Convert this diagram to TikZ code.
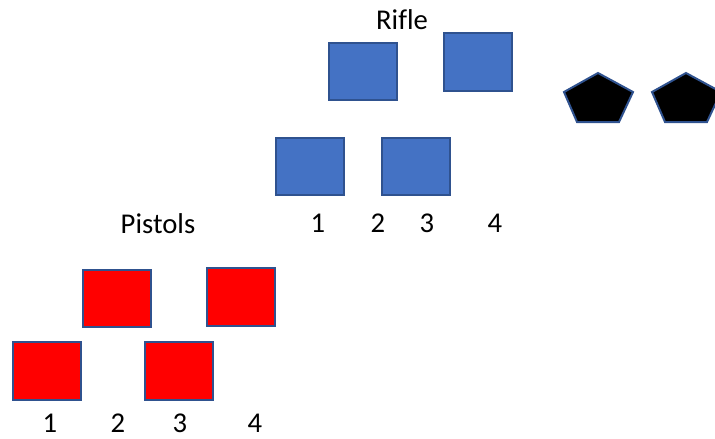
\documentclass[tikz,border=0pt]{standalone}
\usepackage{fontspec}
\setmainfont{Carlito}[Ligatures=NoCommon]
\usepackage{xcolor}
\usepackage{tikz}
\definecolor{boxedge}{HTML}{2F528F}
\definecolor{riflefill}{HTML}{4472C4}

\begin{document}
\begin{tikzpicture}[x=0.75pt, y=-0.75pt, line width=1.5pt,
  gun/.style={draw=boxedge, minimum width=51pt, minimum height=43pt, inner sep=0pt},
  rifle/.style={gun, fill=riflefill},
  pistol/.style={gun, fill=red},
  lbl/.style={font=\fontsize{21.5}{25}\selectfont, inner sep=0pt}]
\useasboundingbox (0,0) rectangle (715,439);
\clip (0,0) rectangle (715,439);
% rifle group
\node[lbl] (riflename) at (402,20) {Rifle};
\node[rifle] (r1) at (363,71.5) {};
\node[rifle] (r2) at (478,62) {};
\node[rifle] (r3) at (310,166.5) {};
\node[rifle] (r4) at (416,166.5) {};
\node[lbl] (rn1) at (318,223) {1};
\node[lbl] (rn2) at (378,223) {2};
\node[lbl] (rn3) at (427,223) {3};
\node[lbl] (rn4) at (495,223) {4};
% pentagons
\foreach \dx in {0,88}
  \filldraw[fill=black, draw=boxedge, line join=miter, xshift=\dx*0.75pt]
    (598,73) -- (633,92) -- (619,122) -- (577,122) -- (564,92) -- cycle;
% pistol group
\node[lbl] (pistolname) at (158,224) {Pistols};
\node[pistol] (p1) at (117,298.5) {};
\node[pistol] (p2) at (241,297) {};
\node[pistol] (p3) at (47,371) {};
\node[pistol] (p4) at (179,371) {};
\node[lbl] (pn1) at (50,423) {1};
\node[lbl] (pn2) at (118,423) {2};
\node[lbl] (pn3) at (180,423) {3};
\node[lbl] (pn4) at (255,423) {4};
\end{tikzpicture}
\end{document}
